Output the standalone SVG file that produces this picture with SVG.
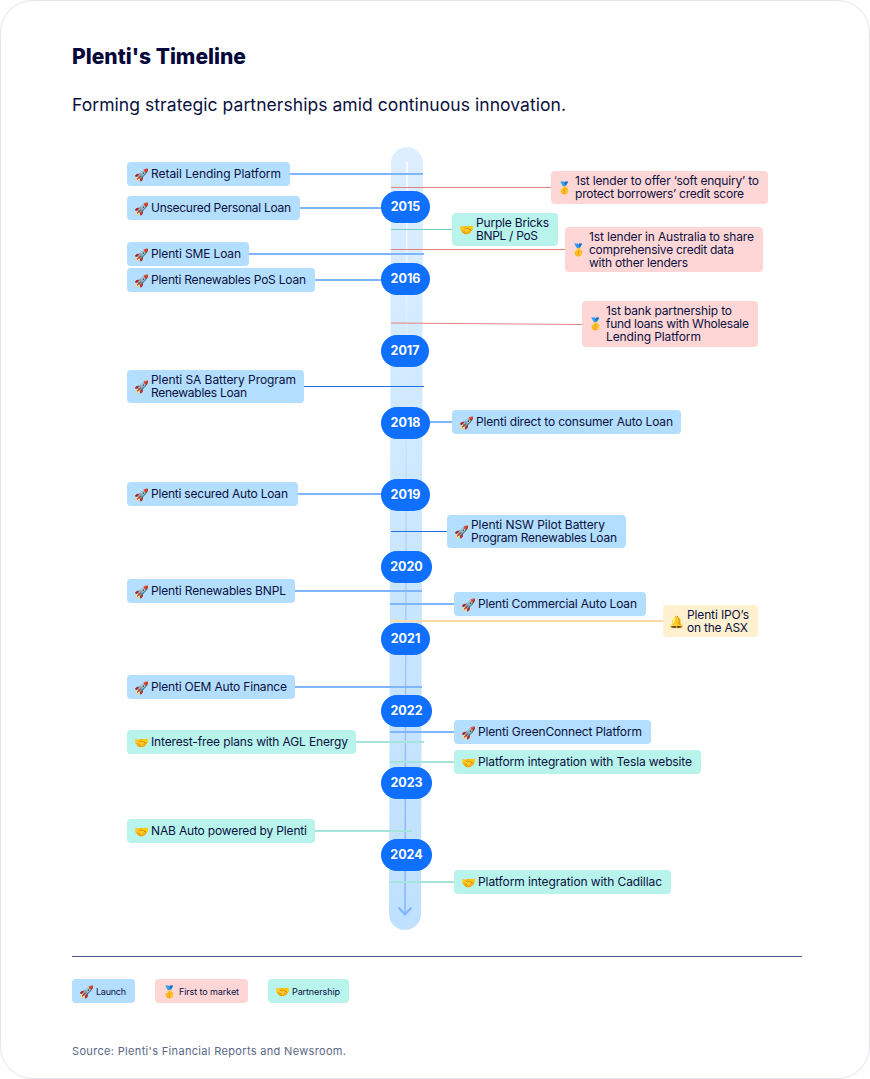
<svg xmlns="http://www.w3.org/2000/svg" width="870" height="1079" viewBox="0 0 870 1079">
<defs>
<linearGradient id="bar" gradientUnits="userSpaceOnUse" x1="407" y1="147" x2="405" y2="930"><stop offset="0" stop-color="#dceeff"/><stop offset=".5" stop-color="#cbe7ff"/><stop offset="1" stop-color="#bfe0ff"/></linearGradient>
<linearGradient id="axis" gradientUnits="userSpaceOnUse" x1="407" y1="162" x2="405" y2="914"><stop offset="0" stop-color="#ffffff"/><stop offset=".35" stop-color="#cfe4ff"/><stop offset=".55" stop-color="#a9cfff"/><stop offset="1" stop-color="#7fb5ff"/></linearGradient>
</defs>
<style>
text{font-family:"Inter","Liberation Sans",sans-serif;fill:#0a1140}
.t{font-size:12px}
.e{font-size:12px;font-family:"Noto Color Emoji","Noto Sans",sans-serif}
.l{font-size:9px}
.y{font-size:12.500px;font-weight:700;fill:#fff;text-anchor:middle}
.b{fill:#b3deff}.p{fill:#ffd6d6}.m{fill:#b8f3ec}.o{fill:#fff1cf}
.lb{stroke:#7fb5ff;stroke-width:2;fill:none}
.lp{stroke:#e58080;stroke-width:1;fill:none}
.lm{stroke:#70cfc2;stroke-width:1;fill:none}
.lm2{stroke:#a5e4dc;stroke-width:2;fill:none}
.lo{stroke:#fbd8a8;stroke-width:2;fill:none}
.lk{stroke:#1f6fe5;stroke-width:1;fill:none}
.yr{fill:#0f6fff}
</style>
<rect x=".5" y=".5" width="869" height="1078" rx="32" fill="#fff" stroke="#e3e5ea"/>
<text x="72" y="64" font-size="22" font-weight="800" style="fill:#05083a" textLength="174" lengthAdjust="spacingAndGlyphs">Plenti's Timeline</text>
<text x="72" y="111" font-size="17.500" textLength="494">Forming strategic partnerships amid continuous innovation.</text>
<path d="M391 163A16 16 0 0 1 423 163L421 914A16 16 0 0 1 389 914Z" fill="url(#bar)"/>
<g id="axis-line" fill="none" stroke="url(#axis)" stroke-width="1.500">
<path d="M407 162L405 914"/>
</g>
<path d="M398.500 907.500L405 914.500L411.500 907.500" fill="none" stroke="#7fb5ff" stroke-width="2"/>
<g id="connectors">
<path class="lb" d="M289 174H423"/><path class="lb" d="M300 208H385"/><path class="lb" d="M248 254H424"/><path class="lb" d="M314 280H385"/>
<path class="lp" d="M391 187.500H552"/><path class="lm" d="M391 229.500H452"/><path class="lp" d="M391 249.500H566"/><path class="lp" d="M391 323L582 324.500"/>
<path class="lk" d="M303 386.500H424"/><path class="lb" d="M428 422H452"/><path class="lb" d="M298 494H385"/><path class="lk" d="M391 531.500H447"/>
<path class="lb" d="M295 591H422"/><path class="lb" d="M390 604H454"/><path class="lo" d="M390 621H663"/><path class="lb" d="M295 687H422"/>
<path class="lb" d="M390 732H454"/><path class="lm2" d="M355 742H424"/><path class="lm2" d="M390 762H454"/><path class="lm2" d="M314 831H412"/><path class="lm2" d="M390 882H454"/>
</g>
<g id="y2015"><rect class="yr" x="381" y="191" width="49" height="32" rx="16"/><text class="y" x="405.500" y="211">2015</text></g>
<g id="y2016"><rect class="yr" x="381" y="263" width="49" height="32" rx="16"/><text class="y" x="405.500" y="283">2016</text></g>
<g id="y2017"><rect class="yr" x="381" y="335" width="48" height="32" rx="16"/><text class="y" x="405" y="355">2017</text></g>
<g id="y2018"><rect class="yr" x="381" y="407" width="49" height="32" rx="16"/><text class="y" x="405.500" y="427">2018</text></g>
<g id="y2019"><rect class="yr" x="381" y="479" width="49" height="32" rx="16"/><text class="y" x="405.500" y="499">2019</text></g>
<g id="y2020"><rect class="yr" x="381" y="551" width="51" height="32" rx="16"/><text class="y" x="406.500" y="571">2020</text></g>
<g id="y2021"><rect class="yr" x="381" y="623" width="49" height="32" rx="16"/><text class="y" x="405.500" y="643">2021</text></g>
<g id="y2022"><rect class="yr" x="381" y="695" width="51" height="32" rx="16"/><text class="y" x="406.500" y="715">2022</text></g>
<g id="y2023"><rect class="yr" x="381" y="767" width="51" height="32" rx="16"/><text class="y" x="406.500" y="787">2023</text></g>
<g id="y2024"><rect class="yr" x="381" y="839" width="51" height="32" rx="16"/><text class="y" x="406.500" y="859">2024</text></g>
<g id="n1"><rect class="b" x="127" y="162" width="163" height="24" rx="4"/><text class="e" x="134" y="178.500">🚀</text><text class="t" x="151" y="178" textLength="130">Retail Lending Platform</text></g>
<g id="n2"><rect class="b" x="127" y="196" width="173" height="24" rx="4"/><text class="e" x="134" y="212.500">🚀</text><text class="t" x="151" y="212" textLength="140">Unsecured Personal Loan</text></g>
<g id="n3"><rect class="b" x="127" y="242" width="122" height="24" rx="4"/><text class="e" x="134" y="258.500">🚀</text><text class="t" x="151" y="258" textLength="90">Plenti SME Loan</text></g>
<g id="n4"><rect class="b" x="127" y="268" width="188" height="24" rx="4"/><text class="e" x="134" y="284.500">🚀</text><text class="t" x="151" y="284" textLength="155">Plenti Renewables PoS Loan</text></g>
<g id="n5"><rect class="p" x="551" y="171" width="217" height="33" rx="4"/><text class="e" x="557.500" y="192">🥇</text><text class="t" x="575" y="185" textLength="184">1st lender to offer ‘soft enquiry’ to</text><text class="t" x="575" y="198" textLength="169">protect borrowers’ credit score</text></g>
<g id="n6"><rect class="m" x="452" y="213" width="106" height="33" rx="4"/><text class="e" x="459" y="234">🤝</text><text class="t" x="476" y="227" textLength="73">Purple Bricks</text><text class="t" x="476" y="240" textLength="62">BNPL / PoS</text></g>
<g id="n7"><rect class="p" x="565" y="227" width="198" height="45" rx="4"/><text class="e" x="571.500" y="254">🥇</text><text class="t" x="589" y="240.500" textLength="165">1st lender in Australia to share</text><text class="t" x="589" y="253.500" textLength="145">comprehensive credit data</text><text class="t" x="589" y="266.500" textLength="99">with other lenders</text></g>
<g id="n8"><rect class="p" x="582" y="301" width="176" height="46" rx="4"/><text class="e" x="588.500" y="328">🥇</text><text class="t" x="606" y="315" textLength="126">1st bank partnership to</text><text class="t" x="606" y="328" textLength="143">fund loans with Wholesale</text><text class="t" x="606" y="341" textLength="95">Lending Platform</text></g>
<g id="n9"><rect class="b" x="127" y="370" width="177" height="33" rx="4"/><text class="e" x="134" y="391">🚀</text><text class="t" x="151" y="384" textLength="145">Plenti SA Battery Program</text><text class="t" x="151" y="397" textLength="96">Renewables Loan</text></g>
<g id="n10"><rect class="b" x="452" y="410" width="229" height="24" rx="4"/><text class="e" x="459" y="426.500">🚀</text><text class="t" x="476" y="426" textLength="197">Plenti direct to consumer Auto Loan</text></g>
<g id="n11"><rect class="b" x="127" y="482" width="171" height="24" rx="4"/><text class="e" x="134" y="498.500">🚀</text><text class="t" x="151" y="498" textLength="137">Plenti secured Auto Loan</text></g>
<g id="n12"><rect class="b" x="447" y="515" width="179" height="33" rx="4"/><text class="e" x="454" y="536">🚀</text><text class="t" x="471" y="529" textLength="134">Plenti NSW Pilot Battery</text><text class="t" x="471" y="542" textLength="146">Program Renewables Loan</text></g>
<g id="n13"><rect class="b" x="127" y="579" width="168" height="24" rx="4"/><text class="e" x="134" y="595.500">🚀</text><text class="t" x="151" y="595" textLength="135">Plenti Renewables BNPL</text></g>
<g id="n14"><rect class="b" x="454" y="592" width="192" height="24" rx="4"/><text class="e" x="461" y="608.500">🚀</text><text class="t" x="478" y="608" textLength="159">Plenti Commercial Auto Loan</text></g>
<g id="n15"><rect class="o" x="663" y="605" width="95" height="32" rx="4"/><text class="e" x="669.500" y="626">🔔</text><text class="t" x="687" y="619" textLength="62">Plenti IPO’s</text><text class="t" x="687" y="632" textLength="61">on the ASX</text></g>
<g id="n16"><rect class="b" x="127" y="675" width="168" height="24" rx="4"/><text class="e" x="134" y="691.500">🚀</text><text class="t" x="151" y="691" textLength="136">Plenti OEM Auto Finance</text></g>
<g id="n17"><rect class="b" x="454" y="720" width="197" height="24" rx="4"/><text class="e" x="461" y="736.500">🚀</text><text class="t" x="478" y="736" textLength="164">Plenti GreenConnect Platform</text></g>
<g id="n18"><rect class="m" x="127" y="730" width="229" height="24" rx="4"/><text class="e" x="134" y="746.500">🤝</text><text class="t" x="151" y="746" textLength="197">Interest-free plans with AGL Energy</text></g>
<g id="n19"><rect class="m" x="454" y="750" width="247" height="24" rx="4"/><text class="e" x="461" y="766.500">🤝</text><text class="t" x="478" y="766" textLength="214">Platform integration with Tesla website</text></g>
<g id="n20"><rect class="m" x="127" y="819" width="188" height="24" rx="4"/><text class="e" x="134" y="835.500">🤝</text><text class="t" x="151" y="835" textLength="156">NAB Auto powered by Plenti</text></g>
<g id="n21"><rect class="m" x="454" y="870" width="217" height="24" rx="4"/><text class="e" x="461" y="886.500">🤝</text><text class="t" x="478" y="886" textLength="184">Platform integration with Cadillac</text></g>
<path d="M72 956.500H802" stroke="#4a5a86" stroke-width="1" fill="none"/>
<g id="legend-launch"><rect class="b" x="72" y="979" width="63" height="24" rx="4"/><text class="e" x="79" y="996">🚀</text><text class="l" x="96" y="995" textLength="30">Launch</text></g>
<g id="legend-first"><rect class="p" x="155" y="979" width="93" height="24" rx="4"/><text class="e" x="162" y="996">🥇</text><text class="l" x="179" y="995" textLength="60">First to market</text></g>
<g id="legend-partner"><rect class="m" x="268" y="979" width="81" height="24" rx="4"/><text class="e" x="275" y="996">🤝</text><text class="l" x="292" y="995" textLength="48">Partnership</text></g>
<text x="72" y="1055" font-size="11" style="fill:#5a6788" textLength="274">Source: Plenti's Financial Reports and Newsroom.</text>
</svg>
